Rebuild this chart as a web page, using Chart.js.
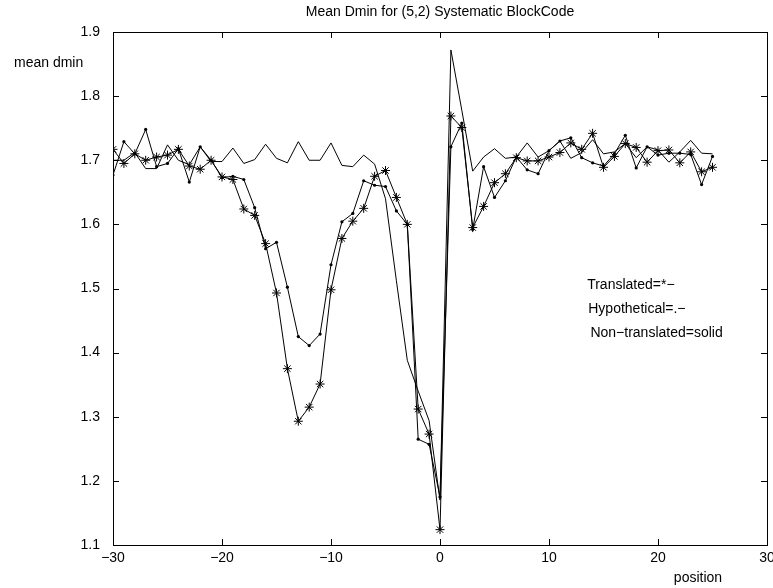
<!DOCTYPE html>
<html>
<head>
<meta charset="utf-8">
<script src="https://cdn.jsdelivr.net/npm/chart.js@4.4.1/dist/chart.umd.min.js"></script>
<style>
  html, body { margin: 0; padding: 0; background: #fff; }
  #wrap { width: 773px; height: 588px; }
</style>
</head>
<body>
<div id="wrap"><canvas id="Chart_0" width="773" height="588"></canvas></div>
<script>
"use strict";

// positions -30 .. 25
const positions = [-30, -29, -28, -27, -26, -25, -24, -23, -22, -21, -20, -19, -18, -17, -16, -15, -14, -13, -12, -11,
  -10, -9, -8, -7, -6, -5, -4, -3, -2, -1, 0, 1, 2, 3, 4, 5, 6, 7, 8, 9,
  10, 11, 12, 13, 14, 15, 16, 17, 18, 19, 20, 21, 22, 23, 24, 25];

// Translated = *-
const translated = [1.717, 1.695, 1.710, 1.700, 1.705, 1.708, 1.717, 1.691, 1.686, 1.700,
  1.674, 1.670, 1.624, 1.614, 1.570, 1.493, 1.375, 1.293, 1.315, 1.351,
  1.498, 1.578, 1.605, 1.625, 1.675, 1.684, 1.642, 1.600, 1.312, 1.273,
  1.124, 1.769, 1.751, 1.595, 1.628, 1.665, 1.679, 1.704, 1.699, 1.699,
  1.705, 1.712, 1.727, 1.717, 1.742, 1.689, 1.706, 1.726, 1.720, 1.697,
  1.715, 1.716, 1.696, 1.713, 1.682, 1.689];

// Hypothetical = .-
const hypothetical = [1.677, 1.729, 1.710, 1.748, 1.690, 1.695, 1.718, 1.666, 1.721, 1.700,
  1.673, 1.675, 1.670, 1.626, 1.562, 1.572, 1.502, 1.425, 1.411, 1.429,
  1.537, 1.604, 1.617, 1.668, 1.661, 1.659, 1.621, 1.600, 1.265, 1.257,
  1.175, 1.721, 1.758, 1.592, 1.690, 1.642, 1.668, 1.705, 1.685, 1.679,
  1.715, 1.730, 1.735, 1.704, 1.696, 1.691, 1.710, 1.739, 1.688, 1.721,
  1.708, 1.711, 1.711, 1.709, 1.662, 1.706];

// Non-translated = solid
const nonTranslated = [1.700, 1.700, 1.712, 1.687, 1.687, 1.724, 1.700, 1.693, 1.721, 1.698,
  1.698, 1.719, 1.695, 1.701, 1.725, 1.703, 1.696, 1.729, 1.700, 1.700,
  1.727, 1.692, 1.690, 1.708, 1.694, 1.640, 1.512, 1.388, 1.340, 1.294,
  1.170, 1.872, 1.778, 1.683, 1.705, 1.718, 1.703, 1.705, 1.727, 1.705,
  1.715, 1.730, 1.703, 1.712, 1.732, 1.710, 1.713, 1.726, 1.704, 1.721,
  1.716, 1.697, 1.713, 1.731, 1.711, 1.710];

const xTicks = [-30, -20, -10, 0, 10, 20, 30];
const yTicks = [1.1, 1.2, 1.3, 1.4, 1.5, 1.6, 1.7, 1.8, 1.9];

// text notes inside the axes (data coords)
const noteText = ['Translated=*\u2212', 'Hypothetical=.\u2212', 'Non\u2212translated=solid'];
const noteX = [13.5, 13.6, 13.8];
const noteY = [1.506, 1.468, 1.430];

const FONT = '"Liberation Sans", Arial, Helvetica, sans-serif';
const toPts = arr => positions.map((p, i) => ({ x: p, y: arr[i] }));
const minus = v => (v < 0 ? '\u2212' + Math.abs(v) : String(v));

// matlab style box + inward ticks
const boxPlugin = {
  id: 'matlabBox',
  afterDatasetsDraw(chart) {
    const { ctx, chartArea: a, scales: { x, y } } = chart;
    ctx.save();
    ctx.strokeStyle = '#000';
    ctx.lineWidth = 1;
    ctx.strokeRect(Math.round(a.left) + 0.5, Math.round(a.top) + 0.5,
      Math.round(a.right - a.left), Math.round(a.bottom - a.top));
    ctx.beginPath();
    x.ticks.forEach(t => {
      const px = Math.round(x.getPixelForValue(t.value)) + 0.5;
      ctx.moveTo(px, a.bottom); ctx.lineTo(px, a.bottom - 6);
      ctx.moveTo(px, a.top); ctx.lineTo(px, a.top + 6);
    });
    y.ticks.forEach(t => {
      const py = Math.round(y.getPixelForValue(t.value)) + 0.5;
      ctx.moveTo(a.left, py); ctx.lineTo(a.left + 6, py);
      ctx.moveTo(a.right, py); ctx.lineTo(a.right - 6, py);
    });
    ctx.stroke();

    // notes
    ctx.fillStyle = '#000';
    ctx.font = '14px ' + FONT;
    ctx.textAlign = 'left';
    ctx.textBaseline = 'middle';
    noteText.forEach((s, i) => {
      ctx.fillText(s, x.getPixelForValue(noteX[i]), y.getPixelForValue(noteY[i]));
    });

    // axis labels
    ctx.fillText('mean dmin', 14, 63);
    ctx.textAlign = 'center';
    ctx.fillText('position', 698, 578);
    ctx.restore();
  }
};

var ctx = document.getElementById('Chart_0');
Chart.defaults.color = '#000';
Chart.defaults.font.family = FONT;
Chart.defaults.font.size = 14;

let chart = new Chart(ctx, {
  type: 'line',
  data: {
    datasets: [{
      label: 'Translated',
      data: toPts(translated),
      borderColor: '#000', borderWidth: 1,
      pointStyle: 'star', pointRadius: 4.5, pointBorderWidth: 1,
      pointBorderColor: '#000', pointBackgroundColor: '#000',
      tension: 0
    }, {
      label: 'Hypothetical',
      data: toPts(hypothetical),
      borderColor: '#000', borderWidth: 1,
      pointStyle: 'circle', pointRadius: 1.6, pointBorderWidth: 0,
      pointBackgroundColor: '#000',
      tension: 0
    }, {
      label: 'Non-translated',
      data: toPts(nonTranslated),
      borderColor: '#000', borderWidth: 1,
      pointRadius: 0,
      tension: 0
    }]
  },
  options: {
    responsive: false,
    animation: false,
    layout: { padding: { left: 0, right: 6, top: 0, bottom: 0 } },
    plugins: {
      legend: { display: false },
      tooltip: { enabled: false },
      title: {
        display: true,
        fullSize: false,
        text: 'Mean Dmin for (5,2) Systematic BlockCode',
        color: '#000',
        font: { size: 14, weight: 'normal', family: FONT, lineHeight: 1.2 },
        padding: { top: 4, bottom: 11.2 }
      }
    },
    scales: {
      x: {
        type: 'linear', min: -30, max: 30,
        grid: { display: false, drawTicks: false },
        border: { display: false },
        afterBuildTicks: s => { s.ticks = xTicks.map(v => ({ value: v })); },
        afterFit: s => { s.height = 43; s.paddingLeft = 0; s.paddingRight = 0; },
        ticks: { padding: 5, maxRotation: 0, autoSkip: false, callback: v => minus(v) }
      },
      y: {
        type: 'linear', min: 1.1, max: 1.9,
        grid: { display: false, drawTicks: false },
        border: { display: false },
        afterBuildTicks: s => { s.ticks = yTicks.map(v => ({ value: v })); },
        afterFit: s => { s.width = 113; s.paddingTop = 0; s.paddingBottom = 0; },
        ticks: { padding: 13, autoSkip: false, callback: v => v.toFixed(1) }
      }
    }
  },
  plugins: [boxPlugin]
});
</script>
</body>
</html>
